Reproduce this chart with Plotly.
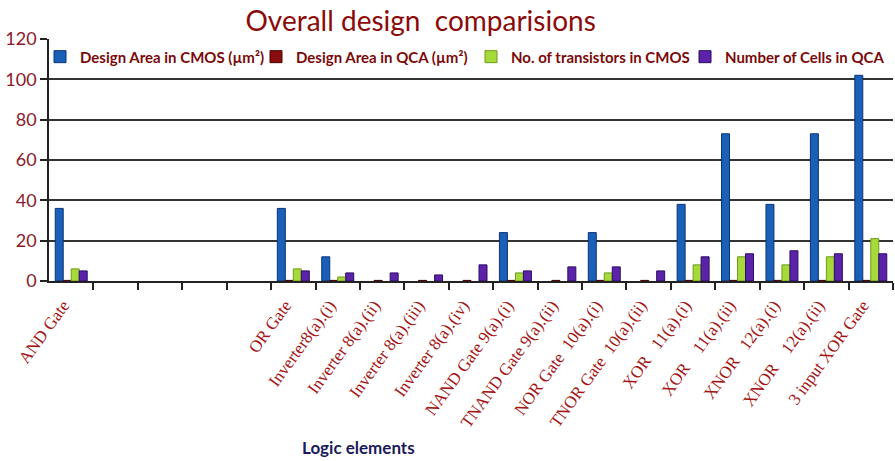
import plotly.graph_objects as go

# Logic elements along the x axis (four empty slots after the AND gate)
categories = [
    "AND Gate", "", "", "", "",
    "OR Gate",
    "Inverter8(a).(i)",
    "Inverter 8(a).(ii)",
    "Inverter 8(a).(iii)",
    "Inverter 8(a).(iv)",
    "NAND Gate 9(a).(i)",
    "TNAND Gate 9(a).(ii)",
    "NOR Gate\u00a0 10(a).(i)",
    "TNOR Gate\u00a0 10(a).(ii)",
    "XOR\u00a0\u00a0 11(a).(i)",
    "XOR\u00a0\u00a0\u00a0 11(a).(ii)",
    "XNOR\u00a0\u00a0 12(a).(i)",
    "XNOR\u00a0\u00a0\u00a0 12(a).(ii)",
    "3 input XOR Gate",
]

area_cmos = [36, None, None, None, None, 36, 12, None, None, None, 24, None, 24, None, 38, 73, 38, 73, 102]
area_qca = [0.3, None, None, None, None, 0.3, 0.3, 0.3, 0.3, 0.3, 0.3, 0.3, 0.3, 0.3, 0.3, 0.3, 0.3, 0.3, 0.3]
transistors_cmos = [6, None, None, None, None, 6, 2, None, None, None, 4, None, 4, None, 8, 12, 8, 12, 21]
cells_qca = [5, None, None, None, None, 5, 4, 4, 3, 8, 5, 7, 7, 5, 12, 13.5, 15, 13.5, 13.5]

series_names = [
    "Design Area in CMOS (\u00b5m\u00b2)",
    "Design Area in QCA (\u00b5m\u00b2)",
    "No. of transistors in CMOS",
    "Number of Cells in QCA",
]
series_values = [area_cmos, area_qca, transistors_cmos, cells_qca]
fill_colors = ["#1a5fb8", "#8a0d0d", "#a6d93a", "#5a23a8"]
edge_colors = ["#0b3478", "#4a0000", "#6f9a1a", "#2c0d66"]

# one legend box per series, laid out in a row across the top of the plot
legend_ids = ["legend", "legend2", "legend3", "legend4"]
legend_left_px = [40, 256, 471, 685]

positions = list(range(len(categories)))

fig = go.Figure()
for name, vals, fc, ec, lid in zip(series_names, series_values, fill_colors, edge_colors, legend_ids):
    fig.add_trace(go.Bar(
        x=positions, y=vals, name=name, legend=lid,
        marker=dict(color=fc, line=dict(color=ec, width=1)),
    ))

legend_font = dict(family="Lato", size=15, color="#7a0a0a", weight="bold")
legend_layout = {
    lid: dict(
        orientation="h",
        x=(px - 49) / 844, xanchor="left", y=0.926, yanchor="middle",
        bgcolor="rgba(0,0,0,0)", font=legend_font, itemwidth=30,
    )
    for lid, px in zip(legend_ids, legend_left_px)
}

fig.update_layout(
    width=895, height=461,
    margin=dict(l=49, r=2, t=39, b=180),
    paper_bgcolor="white", plot_bgcolor="white",
    barmode="group", bargap=0.28, bargroupgap=0.0,
    title=dict(
        text="Overall design\u00a0 comparisions",
        x=0.47, xanchor="center", xref="container",
        y=0.955, yanchor="middle", yref="container",
        font=dict(family="Lato", size=28, color="#8b0a0a"),
    ),
    showlegend=True,
    font=dict(family="Lato"),
    **legend_layout,
)

fig.update_xaxes(
    range=[-0.5, len(categories) - 0.5],
    tickmode="array", tickvals=positions, ticktext=categories,
    tickangle=-54, ticks="", ticklen=0,
    ticklabelshift=-8, ticklabelstandoff=6,
    tickfont=dict(family="Liberation Serif", size=17, color="#a31515"),
    showline=True, linecolor="#222222", linewidth=1.5,
    showgrid=False, zeroline=False,
    minor=dict(
        tickmode="array",
        tickvals=[p + 0.5 for p in positions[:-1]] + [len(categories) - 0.5],
        ticks="outside", ticklen=7, tickcolor="#222222", tickwidth=1.5,
        showgrid=False,
    ),
)

fig.update_yaxes(
    range=[0, 120], dtick=20,
    ticks="outside", ticklen=7, tickcolor="#222222", tickwidth=1.5,
    tickfont=dict(family="Lato", size=18, color="#8b1a2a"),
    showline=True, linecolor="#222222", linewidth=1.5,
    showgrid=True, gridcolor="#333333", gridwidth=1.5,
    zeroline=False,
)

fig.add_annotation(
    text="<b>Logic elements</b>",
    xref="paper", yref="paper",
    x=(358 - 49) / 844, y=-(447 - 281) / 242,
    xanchor="center", yanchor="middle", showarrow=False,
    font=dict(family="Lato", size=17, color="#1a1a5a"),
)

fig.write_html("out.html")
